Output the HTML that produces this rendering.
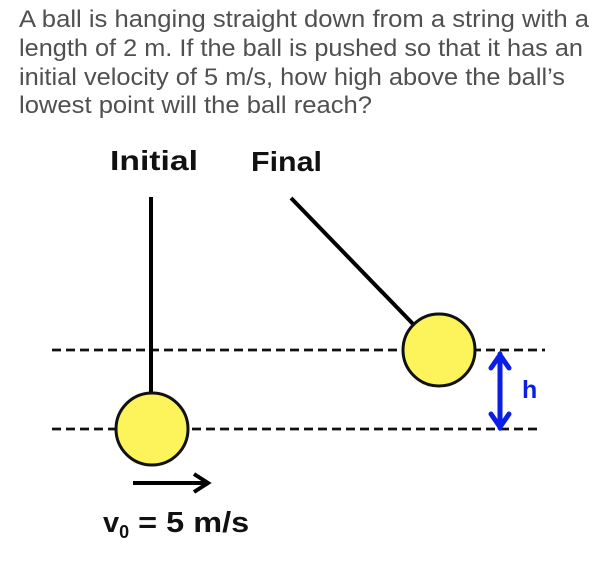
<!DOCTYPE html>
<html><head><style>
body{margin:0;background:#fff;width:605px;height:572px;overflow:hidden}
</style></head><body>
<svg width="605" height="572" xmlns="http://www.w3.org/2000/svg">
<g font-family="Liberation Sans, sans-serif" font-size="24.5" fill="#505050" lengthAdjust="spacingAndGlyphs">
<text x="19" y="27" textLength="570" lengthAdjust="spacingAndGlyphs">A ball is hanging straight down from a string with a</text>
<text x="19" y="56" textLength="564" lengthAdjust="spacingAndGlyphs">length of 2 m.  If the ball is pushed so that it has an</text>
<text x="19" y="85" textLength="546" lengthAdjust="spacingAndGlyphs">initial velocity of 5 m/s, how high above the ball’s</text>
<text x="19" y="113" textLength="353" lengthAdjust="spacingAndGlyphs">lowest point will the ball reach?</text>
</g>
<g font-family="Liberation Sans, sans-serif" font-size="28" font-weight="bold" fill="#111">
<text x="110" y="170" textLength="88" lengthAdjust="spacingAndGlyphs">Initial</text>
<text x="251" y="171" textLength="71" lengthAdjust="spacingAndGlyphs">Final</text>
</g>
<g stroke="#111" stroke-width="2.8" stroke-dasharray="9,5">
<line x1="52" y1="350" x2="545" y2="350"/>
<line x1="52" y1="429" x2="537" y2="429"/>
</g>
<line x1="151" y1="197" x2="151" y2="393" stroke="#000" stroke-width="4"/>
<line x1="291" y1="198" x2="414" y2="325" stroke="#000" stroke-width="4"/>
<circle cx="152" cy="429" r="36" fill="#fdf35b" stroke="#111" stroke-width="3"/>
<circle cx="439" cy="350" r="36" fill="#fdf35b" stroke="#111" stroke-width="3"/>
<g stroke="#0a1ee6" stroke-width="5" fill="none" stroke-linecap="round">
<line x1="500" y1="354" x2="500" y2="428"/>
<polyline points="491,368 500,355 509,368"/>
<polyline points="491,414 500,427 509,414"/>
</g>
<text x="522" y="398" font-family="Liberation Sans, sans-serif" font-size="25" font-weight="bold" fill="#0a1ee6">h</text>
<line x1="133" y1="483" x2="206" y2="483" stroke="#000" stroke-width="4"/>
<polyline points="194,474 208,483 194,492" stroke="#000" stroke-width="4" fill="none"/>
<text x="103" y="532" font-family="Liberation Sans, sans-serif" font-size="29" font-weight="bold" fill="#111">v<tspan font-size="18" dy="6">0</tspan><tspan dy="-6" textLength="120" lengthAdjust="spacingAndGlyphs"> = 5 m/s</tspan></text>
</svg>
</body></html>
